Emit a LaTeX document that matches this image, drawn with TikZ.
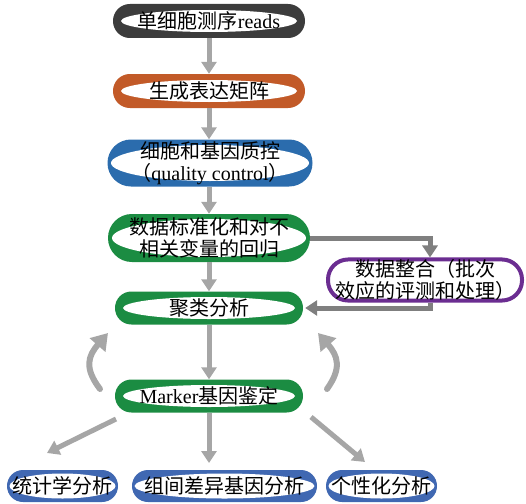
\documentclass[tikz,border=0pt]{standalone}
\usepackage{fontspec}
\setmainfont{Liberation Serif}
\newfontfamily\cjk{Noto Sans CJK SC}
\usetikzlibrary{arrows.meta}
\definecolor{cdark}{HTML}{3C3C3C}
\definecolor{corange}{HTML}{C25A28}
\definecolor{cblue}{HTML}{2B6CAD}
\definecolor{cgreen}{HTML}{1B8C42}
\definecolor{cpurple}{HTML}{6B2D91}
\definecolor{cblue2}{HTML}{4068B2}
\definecolor{agray}{HTML}{A6A6A6}
\definecolor{dgray}{HTML}{7F7F7F}
\tikzset{
  erx/.initial=80pt, ery/.initial=11pt,
  pill/.style={rectangle, inner sep=0pt, align=center, fill=#1,
    font=\fontsize{20}{22}\selectfont,
    path picture={\fill[white] (path picture bounding box.center) ellipse
      [x radius=\pgfkeysvalueof{/tikz/erx}, y radius=\pgfkeysvalueof{/tikz/ery}];}},
  arr/.style={draw=agray, line width=5pt, -{Triangle[width=15pt,length=12pt]}},
  darr/.style={draw=dgray, line width=5pt, -{Triangle[width=15pt,length=12pt]}},
  carr/.style={draw=agray, line width=6pt, line cap=round, -{Triangle[width=20pt,length=16pt]}},
}
\begin{document}
\begin{tikzpicture}[x=1pt,y=-1pt]
\useasboundingbox (0,0) rectangle (526,503);
\node[pill=cdark, minimum width=192pt, minimum height=34pt, rounded corners=16.9pt, erx=88pt, ery=11pt] (n1) at (209,21) {{\cjk 单细胞测序}reads};
\node[pill=corange, minimum width=192pt, minimum height=34pt, rounded corners=16.9pt, erx=88pt, ery=11pt] (n2) at (209,91) {\cjk 生成表达矩阵};
\node[pill=cblue, minimum width=205pt, minimum height=47pt, rounded corners=23.4pt, erx=99pt, ery=18pt] (n3) at (210,163) {{\cjk 细胞和基因质控}\\{\cjk （}quality control{\cjk ）}};
\node[pill=cgreen, minimum width=202pt, minimum height=48pt, rounded corners=23.9pt, erx=97pt, ery=19pt] (n4) at (209,238) {\cjk 数据标准化和对不\\\cjk 相关变量的回归};
\node[rectangle, inner sep=0pt, align=center, draw=cpurple, line width=4pt, fill=white, minimum width=194pt, minimum height=41pt, rounded corners=20pt, font=\fontsize{20}{22}\selectfont] (n5) at (425,280) {\cjk 数据整合（批次\\\cjk 效应的评测和处理）};
\node[pill=cgreen, minimum width=188pt, minimum height=33pt, rounded corners=16.4pt, erx=86pt, ery=11pt] (n6) at (209,308) {\cjk 聚类分析};
\node[pill=cgreen, minimum width=188pt, minimum height=33pt, rounded corners=16.4pt, erx=86pt, ery=11pt] (n7) at (209,396) {Marker{\cjk 基因鉴定}};
\node[pill=cblue2, minimum width=111pt, minimum height=32pt, rounded corners=15.9pt, erx=53pt, ery=12.5pt] (b1) at (62.5,486) {\cjk 统计学分析};
\node[pill=cblue2, minimum width=185pt, minimum height=32pt, rounded corners=15.9pt, erx=90pt, ery=12.5pt] (b2) at (224.5,486) {\cjk 组间差异基因分析};
\node[pill=cblue2, minimum width=111pt, minimum height=32pt, rounded corners=15.9pt, erx=53pt, ery=12.5pt] (b3) at (381.5,486) {\cjk 个性化分析};

\draw[arr] (n1.south) -- (n2.north);
\draw[arr] (n2.south) -- (n2.south |- n3.north);
\draw[arr] (n2.south |- n3.south) -- (n2.south |- n4.north);
\draw[arr] (n2.south |- n4.south) -- (n6.north);
\draw[arr] (n6.south) -- (n7.north);
\draw[darr] (n4.east) -| ([xshift=5pt]n5.north);
\draw[darr] ([xshift=5pt]n5.south) |- ([xshift=2pt]n6.east);

\coordinate (cl1) at (100,389);
\coordinate (cl2) at (108,333);
\coordinate (cr1) at (327,389);
\coordinate (cr2) at (318,333);
\draw[carr] (cl1) .. controls (84,368) and (88,356) .. (cl2);
\draw[carr] (cr1) .. controls (342,368) and (338,356) .. (cr2);

\coordinate (s1) at (116,419);
\coordinate (e1) at (47,453);
\coordinate (e2) at (209,463);
\coordinate (s3) at (311,417);
\coordinate (e3) at (365,462);
\draw[arr] (s1) -- (e1);
\draw[arr] (n7.south) -- (e2);
\draw[arr] (s3) -- (e3);
\end{tikzpicture}
\end{document}
